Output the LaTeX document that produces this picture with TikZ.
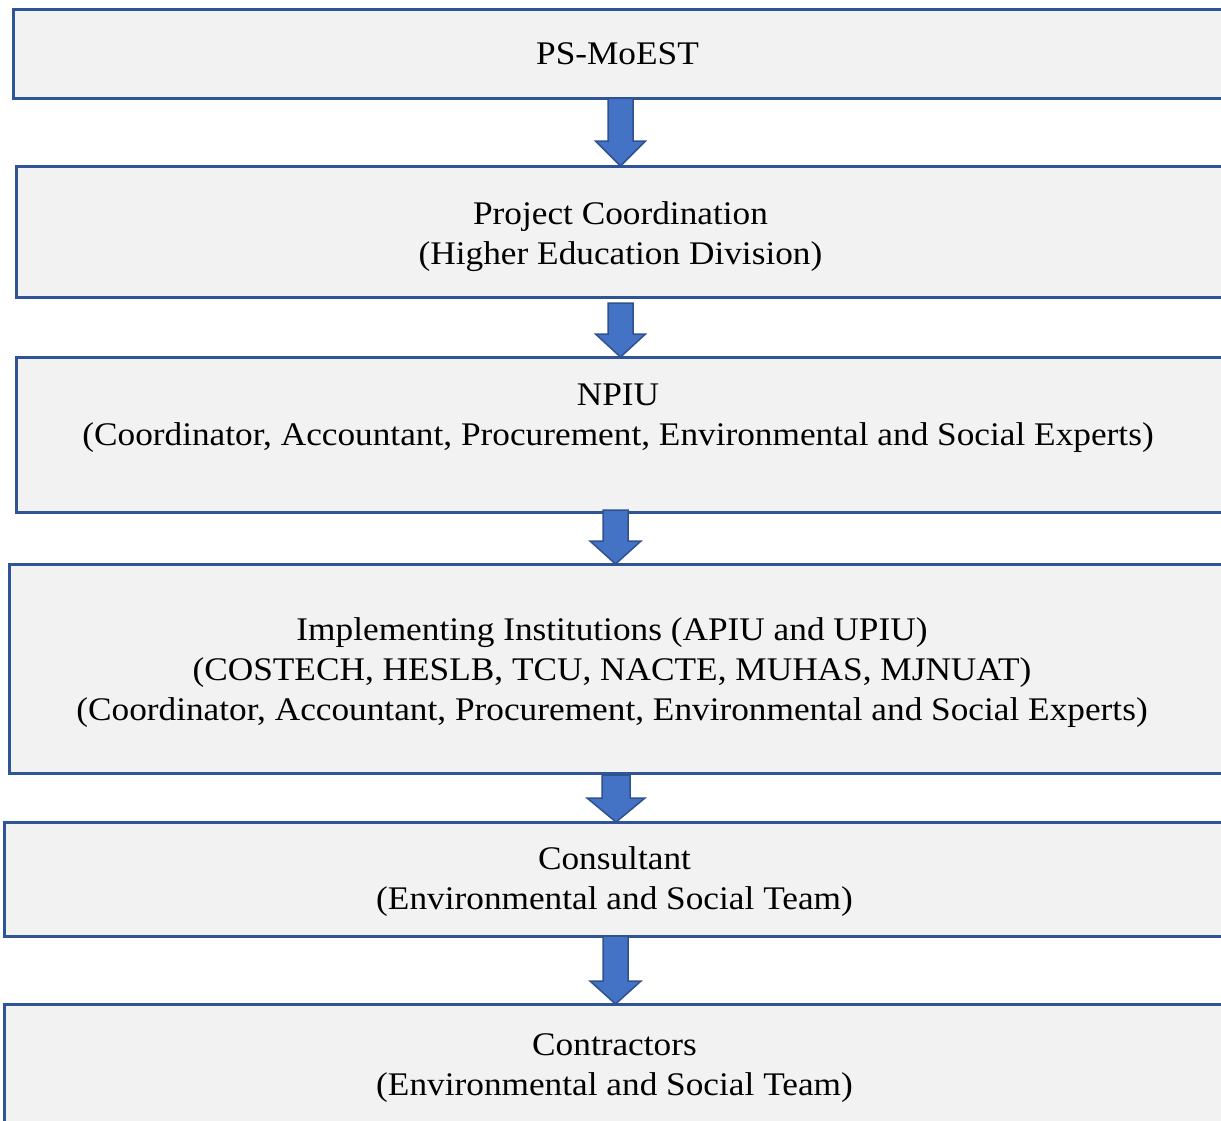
\documentclass[tikz,border=0pt]{standalone}
\usepackage{fontspec}
\setmainfont[FakeStretch=1.069]{Liberation Serif}
\usetikzlibrary{calc}
\definecolor{boxfill}{HTML}{F2F2F2}
\definecolor{boxline}{HTML}{2F5597}
\definecolor{arrfill}{HTML}{4472C4}
\definecolor{arrline}{HTML}{2F528F}
\tikzset{
  box/.style={draw=boxline, fill=boxfill, line width=3pt, rectangle, inner sep=0pt, outer sep=0pt, anchor=north west},
  txt/.style={align=center, font=\fontsize{33}{40}\selectfont, inner sep=0pt, text=black},
  barrow/.style={draw=arrline, fill=arrfill, line width=1.5pt, line join=miter}
}
% #1 x centre, #2 from node, #3 to node, #4 top offset, #5 shaft half width, #6 head half width, #7 head length
\newcommand{\blockarrow}[7]{%
  \draw[barrow] let \p1=(#2.south), \p2=(#3.north) in
    ({#1pt-#5pt},{\y1-#4pt}) -- ({#1pt+#5pt},{\y1-#4pt}) -- ({#1pt+#5pt},{\y2+#7pt})
    -- ({#1pt+#6pt},{\y2+#7pt}) -- ({#1pt},{\y2}) -- ({#1pt-#6pt},{\y2+#7pt})
    -- ({#1pt-#5pt},{\y2+#7pt}) -- cycle;}
\begin{document}
\begin{tikzpicture}[x=1pt,y=-1pt]
\useasboundingbox (0,0) rectangle (1221,1120);
\clip (0,0) rectangle (1221,1120);
\node[box, minimum width=1225pt, minimum height=89pt] (b1) at (13,9) {};
\node[box, minimum width=1225pt, minimum height=131pt] (b2) at (16,166) {};
\node[box, minimum width=1225pt, minimum height=155pt] (b3) at (16,357) {};
\node[box, minimum width=1225pt, minimum height=209pt] (b4) at (9,564) {};
\node[box, minimum width=1230pt, minimum height=114pt] (b5) at (4,822) {};
\node[box, minimum width=1230pt, minimum height=140pt] (b6) at (4,1004) {};

\node[txt] (t1) at (617.5,54) {PS-MoEST};
\node[txt] (t2) at (620.5,237) {Project Coordination\\(Higher Education Division)};
\node[txt] (t3) at (618,418) {NPIU\\(Coordinator, Accountant, Procurement, Environmental and Social Experts)};
\node[txt] (t4) at (612,673) {Implementing Institutions (APIU and UPIU)\\(COSTECH, HESLB, TCU, NACTE, MUHAS, MJNUAT)\\(Coordinator, Accountant, Procurement, Environmental and Social Experts)};
\node[txt] (t5) at (614.5,881.5) {Consultant\\(Environmental and Social Team)};
\node[txt] (t6) at (614.5,1068) {Contractors\\(Environmental and Social Team)};

\blockarrow{620.5}{b1}{b2}{0}{12.5}{25}{25}
\blockarrow{620.5}{b2}{b3}{6}{12.5}{25}{23}
\blockarrow{615.5}{b3}{b4}{-2}{12.5}{25.5}{23}
\blockarrow{616}{b4}{b5}{2}{14}{29}{24}
\blockarrow{615.5}{b5}{b6}{0}{12.5}{25.5}{23}
\end{tikzpicture}
\end{document}
